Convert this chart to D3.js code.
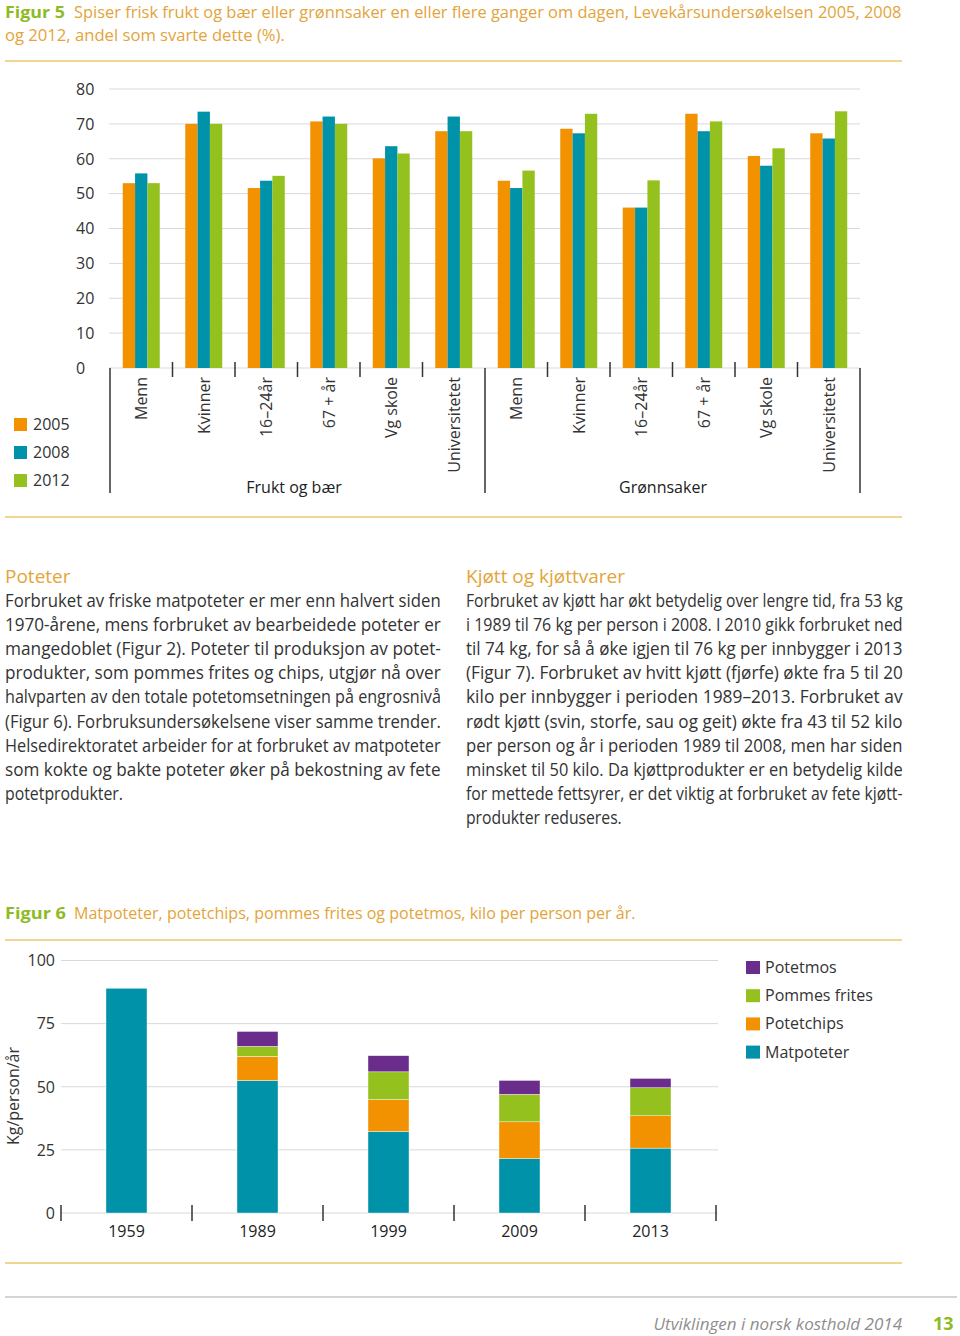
<!DOCTYPE html>
<html><head><meta charset="utf-8">
<script src="https://cdn.jsdelivr.net/npm/d3@7"></script>
<style>body{margin:0;background:#fff} svg{display:block}</style>
</head><body><svg id="c" width="960" height="1336"></svg>
<script>
// ---------- Data: Figur 5 ----------
const fig5Groups = ["Frukt og bær", "Grønnsaker"];
const fig5Categories = ["Menn", "Kvinner", "16–24år", "67 + år", "Vg skole", "Universitetet"];
const fig5Years = ["2005", "2008", "2012"];
const fruit2005 = [53, 70, 51.6, 70.7, 60.1, 67.9];
const fruit2008 = [55.8, 73.5, 53.7, 72.1, 63.6, 72.1];
const fruit2012 = [53, 70, 55.1, 70, 61.5, 67.9];
const veg2005 = [53.7, 68.6, 46, 72.9, 60.8, 67.3];
const veg2008 = [51.6, 67.3, 46, 67.9, 58, 65.8];
const veg2012 = [56.6, 72.9, 53.8, 70.7, 63, 73.6];
const fig5Ticks = [0, 10, 20, 30, 40, 50, 60, 70, 80];

// ---------- Data: Figur 6 ----------
const fig6Years = ["1959", "1989", "1999", "2009", "2013"];
const fig6Series = ["Matpoteter", "Potetchips", "Pommes frites", "Potetmos"];
const matpoteter = [89, 52.5, 32.3, 21.6, 25.7];
const potetchips = [0, 9.5, 12.6, 14.5, 12.8];
const pommesFrites = [0, 4, 11, 10.9, 11.1];
const potetmos = [0, 5.9, 6.4, 5.5, 3.7];
const fig6Ticks = [0, 25, 50, 75, 100];

// ---------- Styles ----------
const C = {orange:"#f39200", teal:"#0092a8", green:"#95c11f", purple:"#6b2d8b",
  gold:"#e3a43a", rule:"#ecc86e", text:"#333333", grid:"#d9d9d9", figGreen:"#8dbb25"};
const yearColor = {"2005":C.orange, "2008":C.teal, "2012":C.green};
const seriesColor = {"Matpoteter":C.teal, "Potetchips":C.orange, "Pommes frites":C.green, "Potetmos":C.purple};
const FONT = "'Open Sans', 'DejaVu Sans', sans-serif";

const svg = d3.select("#c").style("font-family", FONT);

function rule(y, x1, x2, color, w) {
  svg.append("line").attr("x1", x1).attr("x2", x2).attr("y1", y).attr("y2", y)
    .attr("stroke", color).attr("stroke-width", w || 1.5);
}
// text horizontally scaled to fit a target width
function fitText(x, y, str, targetW, size, fill, weight) {
  const t = svg.append("text").attr("font-size", size).attr("fill", fill)
    .attr("font-weight", weight || "normal").text(str);
  const len = t.node().getComputedTextLength();
  t.attr("transform", `translate(${x},${y}) scale(${targetW / len},1)`);
  return t;
}

// ---------- Figure 5 title ----------
fitText(5, 18, "Figur 5", 60, 16, C.figGreen, "bold");
fitText(74, 18, "Spiser frisk frukt og bær eller grønnsaker en eller flere ganger om dagen, Levekårsundersøkelsen 2005, 2008", 828, 16, C.gold);
fitText(5, 41, "og 2012, andel som svarte dette (%).", 280, 16, C.gold);
rule(61, 5, 902, C.rule);

// ---------- Figure 5 chart ----------
const keys = [];
fig5Groups.forEach(g => fig5Categories.forEach(c => keys.push(g + "|" + c)));
const x5 = d3.scaleBand().domain(keys).range([110, 860]);
const xi5 = d3.scaleBand().domain(fig5Years).range([0, 37]);
const y5 = d3.scaleLinear().domain([0, 80]).range([368, 89]);

const g5 = svg.append("g");
g5.selectAll("line.grid").data(fig5Ticks).join("line")
  .attr("x1", 109).attr("x2", 860).attr("y1", d => y5(d)).attr("y2", d => y5(d))
  .attr("stroke", C.grid).attr("stroke-width", 1);
g5.selectAll("text.yt").data(fig5Ticks).join("text")
  .attr("x", 76).attr("y", d => y5(d)).attr("dy", "0.36em")
  .attr("font-size", 16).attr("fill", C.text).text(d => d);

const fig5Data = [];
const seriesByGroup = {
  "Frukt og bær": {"2005": fruit2005, "2008": fruit2008, "2012": fruit2012},
  "Grønnsaker": {"2005": veg2005, "2008": veg2008, "2012": veg2012}
};
fig5Groups.forEach(g => fig5Categories.forEach((c, i) => fig5Years.forEach(yr => {
  fig5Data.push({key: g + "|" + c, year: yr, value: seriesByGroup[g][yr][i]});
})));
const off5 = (x5.bandwidth() - 37) / 2;
g5.selectAll("rect").data(fig5Data).join("rect")
  .attr("x", d => x5(d.key) + off5 + xi5(d.year))
  .attr("width", xi5.bandwidth())
  .attr("y", d => y5(d.value))
  .attr("height", d => y5(0) - y5(d.value))
  .attr("fill", d => yearColor[d.year]);

// separators
keys.forEach((k, i) => {
  if (i === 0 || i === 6) return;
  const xx = x5(k);
  g5.append("line").attr("x1", xx).attr("x2", xx).attr("y1", 362).attr("y2", 377)
    .attr("stroke", C.text).attr("stroke-width", 1.5);
});
[0, 6].forEach(i => {
  const xx = x5(keys[i]);
  g5.append("line").attr("x1", xx).attr("x2", xx).attr("y1", 368).attr("y2", 493)
    .attr("stroke", C.text).attr("stroke-width", 1.5);
});
g5.append("line").attr("x1", 860).attr("x2", 860).attr("y1", 368).attr("y2", 493)
  .attr("stroke", C.text).attr("stroke-width", 1.5);

// category labels
g5.selectAll("text.cat").data(keys).join("text")
  .attr("transform", d => `translate(${x5(d) + x5.bandwidth() / 2},377) rotate(-90)`)
  .attr("text-anchor", "end").attr("dy", "0.36em")
  .attr("font-size", 16).attr("fill", C.text)
  .text(d => d.split("|")[1]);

// group labels
const groupCenters = [294, 663];
fig5Groups.forEach((g, i) => {
  g5.append("text").attr("x", groupCenters[i]).attr("y", 493).attr("text-anchor", "middle")
    .attr("font-size", 16).attr("fill", "#222").text(g);
});

// legend
fig5Years.forEach((yr, i) => {
  const yy = 418 + i * 28;
  g5.append("rect").attr("x", 14).attr("y", yy).attr("width", 13).attr("height", 13).attr("fill", yearColor[yr]);
  g5.append("text").attr("x", 33).attr("y", yy + 12).attr("font-size", 16).attr("fill", C.text).text(yr);
});

rule(517, 5, 902, C.rule);

// ---------- Body text ----------
const potHeading = "Poteter";
const potLines = [
  "Forbruket av friske matpoteter er mer enn halvert siden",
  "1970-årene, mens forbruket av bearbeidede poteter er",
  "mangedoblet (Figur 2). Poteter til produksjon av potet-",
  "produkter, som pommes frites og chips, utgjør nå over",
  "halvparten av den totale potetomsetningen på engrosnivå",
  "(Figur 6). Forbruksundersøkelsene viser samme trender.",
  "Helsedirektoratet arbeider for at forbruket av matpoteter",
  "som kokte og bakte poteter øker på bekostning av fete",
  "potetprodukter."
];
const meatHeading = "Kjøtt og kjøttvarer";
const meatLines = [
  "Forbruket av kjøtt har økt betydelig over lengre tid, fra 53 kg",
  "i 1989 til 76 kg per person i 2008. I 2010 gikk forbruket ned",
  "til 74 kg, for så å øke igjen til 76 kg per innbygger i 2013",
  "(Figur 7). Forbruket av hvitt kjøtt (fjørfe) økte fra 5 til 20",
  "kilo per innbygger i perioden 1989–2013. Forbruket av",
  "rødt kjøtt (svin, storfe, sau og geit) økte fra 43 til 52 kilo",
  "per person og år i perioden 1989 til 2008, men har siden",
  "minsket til 50 kilo. Da kjøttprodukter er en betydelig kilde",
  "for mettede fettsyrer, er det viktig at forbruket av fete kjøtt-",
  "produkter reduseres."
];
function column(x, w, heading, lines, lastW) {
  svg.append("text").attr("x", x).attr("y", 583).attr("font-size", 19)
    .attr("fill", C.gold).text(heading);
  lines.forEach((ln, i) => {
    const last = i === lines.length - 1;
    fitText(x, 607 + i * 24.1, ln, last ? lastW : w, 17.5, C.text);
  });
}
column(5, 436, potHeading, potLines, 118);
column(466, 437, meatHeading, meatLines, 156);

// ---------- Figure 6 ----------
fitText(5, 919, "Figur 6", 61, 16, C.figGreen, "bold");
fitText(74, 919, "Matpoteter, potetchips, pommes frites og potetmos, kilo per person per år.", 562, 16, C.gold);
rule(940, 5, 902, C.rule);

const x6 = d3.scaleBand().domain(fig6Years).range([61, 716]);
const y6 = d3.scaleLinear().domain([0, 100]).range([1213, 960.5]);
const g6 = svg.append("g");
g6.selectAll("line.grid").data(fig6Ticks).join("line")
  .attr("x1", 61).attr("x2", 718).attr("y1", d => y6(d)).attr("y2", d => y6(d))
  .attr("stroke", C.grid).attr("stroke-width", 1);
g6.selectAll("text.yt").data(fig6Ticks).join("text")
  .attr("x", 55).attr("y", d => y6(d)).attr("dy", "0.36em").attr("text-anchor", "end")
  .attr("font-size", 16).attr("fill", C.text).text(d => d);

const rows6 = fig6Years.map((yr, i) => ({year: yr, "Matpoteter": matpoteter[i],
  "Potetchips": potetchips[i], "Pommes frites": pommesFrites[i], "Potetmos": potetmos[i]}));
const stack = d3.stack().keys(fig6Series)(rows6);
const bw6 = 41;
const off6 = (x6.bandwidth() - bw6) / 2;
g6.selectAll("g.s").data(stack).join("g").attr("fill", d => seriesColor[d.key])
  .selectAll("rect").data(d => d.filter(p => p[1] - p[0] > 0)).join("rect")
  .attr("x", d => x6(d.data.year) + off6).attr("width", bw6)
  .attr("y", d => y6(d[1])).attr("height", d => y6(d[0]) - y6(d[1]))
  .attr("stroke", "#fff").attr("stroke-width", 0.4);

// separators
const sepX = fig6Years.map(y => x6(y)).concat([716]);
g6.selectAll("line.sep").data(sepX).join("line")
  .attr("x1", d => d).attr("x2", d => d).attr("y1", 1205).attr("y2", 1221)
  .attr("stroke", C.text).attr("stroke-width", 1.5);
g6.selectAll("text.xl").data(fig6Years).join("text")
  .attr("x", d => x6(d) + x6.bandwidth() / 2).attr("y", 1237).attr("text-anchor", "middle")
  .attr("font-size", 16).attr("fill", "#222").text(d => d);
g6.append("text").attr("transform", "translate(13,1096) rotate(-90)").attr("text-anchor", "middle")
  .attr("dy", "0.36em").attr("font-size", 16).attr("fill", C.text).text("Kg/person/år");

// legend
fig6Series.slice().reverse().forEach((s, i) => {
  const yy = 961 + i * 28.2;
  g6.append("rect").attr("x", 746).attr("y", yy).attr("width", 14).attr("height", 13).attr("fill", seriesColor[s]);
  g6.append("text").attr("x", 765).attr("y", yy + 12).attr("font-size", 16).attr("fill", C.text).text(s);
});

rule(1263, 5, 902, C.rule);
rule(1297, 5, 957, "#a9a9a9", 1);

// footer
svg.append("text").attr("x", 902).attr("y", 1330).attr("text-anchor", "end")
  .attr("font-size", 17).attr("font-style", "italic").attr("fill", "#8e8e8e")
  .text("Utviklingen i norsk kosthold 2014");
svg.append("text").attr("x", 933).attr("y", 1330).attr("font-size", 18).attr("font-weight", "bold")
  .attr("fill", C.figGreen).text("13");
</script></body></html>
